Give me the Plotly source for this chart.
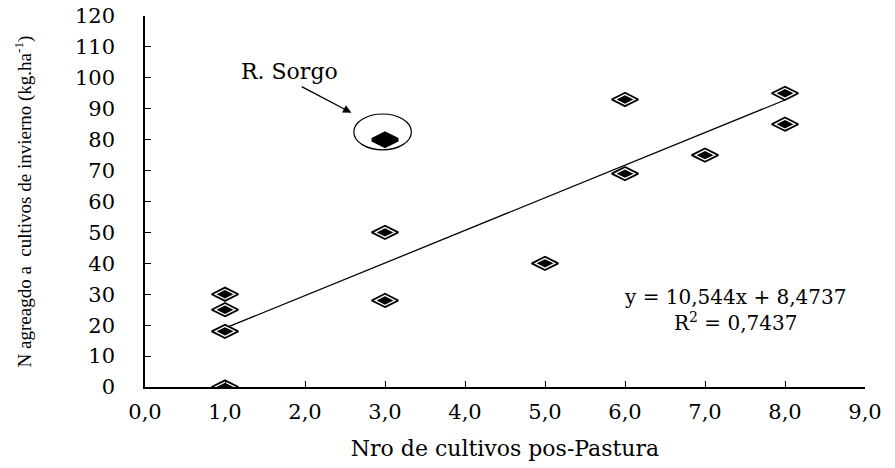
import plotly.graph_objects as go

# Data
x_vals = [1, 1, 1, 1, 3, 3, 5, 6, 6, 7, 8, 8]
y_vals = [0, 18, 25, 30, 28, 50, 40, 69, 93, 75, 85, 95]
sorgo_x = [3]
sorgo_y = [80]
slope = 10.544
intercept = 8.4737
r2 = "0,7437"
trend_x = [1, 8]
trend_y = [slope * v + intercept for v in trend_x]
x_ticks = [0, 1, 2, 3, 4, 5, 6, 7, 8, 9]
x_ticktext = ["0,0", "1,0", "2,0", "3,0", "4,0", "5,0", "6,0", "7,0", "8,0", "9,0"]
y_ticks = list(range(0, 121, 10))

WIDE = '"DejaVu Serif", serif'
NARROW = '"Liberation Serif", "Times New Roman", serif'

fig = go.Figure()
fig.add_trace(go.Scatter(x=trend_x, y=trend_y, mode="lines",
                         line=dict(color="black", width=1.3), hoverinfo="skip"))
fig.add_trace(go.Scatter(x=x_vals, y=y_vals, mode="markers",
                         marker=dict(symbol="diamond-wide", size=19, color="white",
                                     line=dict(color="black", width=1.8))))
fig.add_trace(go.Scatter(x=x_vals, y=y_vals, mode="markers",
                         marker=dict(symbol="diamond-wide", size=12, color="black",
                                     line=dict(width=0))))
fig.add_trace(go.Scatter(x=sorgo_x, y=sorgo_y, mode="markers",
                         marker=dict(symbol="diamond-wide", size=18, color="black",
                                     line=dict(color="black", width=4))))

# circle around sorgo point
sx, sy = sorgo_x[0], sorgo_y[0]
fig.add_shape(type="circle", xref="x", yref="y",
              x0=sx - 0.39, x1=sx + 0.33, y0=sy - 3.3, y1=sy + 8.3,
              line=dict(color="black", width=1.2))

fig.add_annotation(x=sx - 0.42, y=sy + 8.7, ax=sx - 1.06, ay=sy + 17.4,
                   xref="x", yref="y", axref="x", ayref="y",
                   showarrow=True, arrowhead=2, arrowsize=1.2, arrowwidth=1.4,
                   arrowcolor="black", text="")
fig.add_annotation(x=sx - 1.19, y=sy + 21.9, xref="x", yref="y", showarrow=False,
                   text="R. Sorgo", font=dict(family=WIDE, size=22, color="black"))

fig.add_annotation(x=7.375, y=25.0, xref="x", yref="y", showarrow=False,
                   text=f"y = {str(slope).replace('.', ',')}x + {str(intercept).replace('.', ',')}<br>R<sup>2</sup> = {r2}",
                   align="center",
                   font=dict(family=WIDE, size=20, color="black"))

fig.update_layout(
    width=895, height=468,
    margin=dict(l=145, r=30, t=16, b=81),
    paper_bgcolor="white", plot_bgcolor="white",
    showlegend=False,
    font=dict(family=WIDE, size=20, color="black"),
    xaxis=dict(range=[0, 9], tickvals=x_ticks, ticktext=x_ticktext,
               showgrid=False, zeroline=False, showline=True,
               linecolor="black", linewidth=1.5, ticks="inside", ticklen=6,
               tickcolor="black", tickwidth=1.3, ticklabelstandoff=5,
               tickfont=dict(family=WIDE, size=21),
               title=dict(text="Nro de cultivos pos-Pastura",
                          font=dict(family=WIDE, size=22), standoff=18),
               automargin=False),
    yaxis=dict(range=[0, 120], tickvals=y_ticks,
               showgrid=False, zeroline=False, showline=True,
               linecolor="black", linewidth=1.5, ticks="inside", ticklen=6,
               tickcolor="black", tickwidth=1.3, ticklabelstandoff=24,
               tickfont=dict(family=WIDE, size=21),
               title=dict(text="N agreagdo a  cultivos de invierno (kg.ha<sup>-1</sup>)",
                          font=dict(family=NARROW, size=19), standoff=38),
               automargin=False),
)

fig.write_html("out.html")
